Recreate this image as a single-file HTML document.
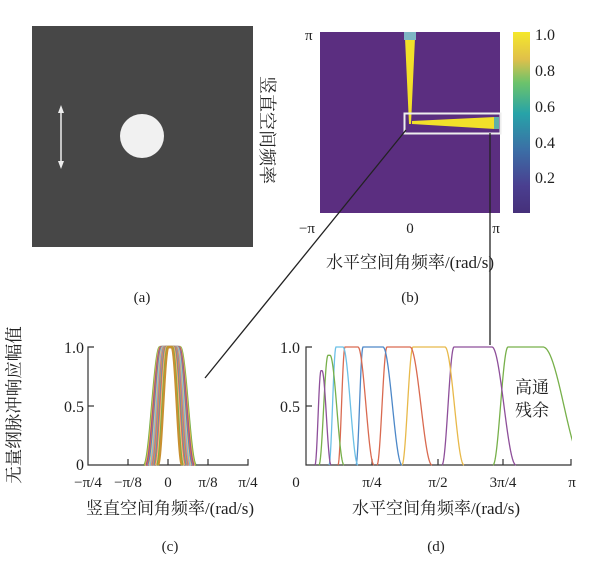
<!DOCTYPE html>
<html><head><meta charset="utf-8"><style>
html,body{margin:0;padding:0;background:#fff;width:600px;height:573px;overflow:hidden}
svg text{font-family:"Liberation Serif","Noto Serif CJK SC",serif;fill:#222}
.c{font-family:"Liberation Serif","Noto Serif CJK SC","Noto Sans CJK SC",serif}
</style></head><body>
<svg id="s" width="600" height="573" viewBox="0 0 600 573" xmlns="http://www.w3.org/2000/svg">
<defs>
<linearGradient id="cb" x1="0" y1="1" x2="0" y2="0">
<stop offset="0" stop-color="#46307a"/><stop offset="0.15" stop-color="#4a3f90"/>
<stop offset="0.35" stop-color="#3b6fa6"/><stop offset="0.55" stop-color="#27a3a8"/>
<stop offset="0.72" stop-color="#6cc36b"/><stop offset="0.85" stop-color="#e0c04a"/>
<stop offset="1" stop-color="#f5e82a"/></linearGradient>
<clipPath id="cp"><rect x="300" y="330" width="272" height="140"/></clipPath>
</defs>
<rect x="32" y="26" width="221" height="221" fill="#474747"/>
<circle cx="142" cy="136" r="22" fill="#f1f1f1"/>
<line x1="61" y1="110" x2="61" y2="164" stroke="#eee" stroke-width="1.5"/>
<polygon points="61,105 58,113 64,113" fill="#eee"/><polygon points="61,169 58,161 64,161" fill="#eee"/>
<text x="142" y="302" font-size="15" text-anchor="middle">(a)</text>
<text class="c" font-size="18" transform="translate(261,130) rotate(90)" text-anchor="middle">竖直空间频率</text>
<rect x="320" y="32" width="180" height="181" fill="#5b2e80"/>
<polygon points="405,38 415,38 411,124 409,124" fill="#f2e02a"/>
<rect x="404" y="32" width="12" height="8" fill="#7fb6c4"/>
<polygon points="412,121 495,117 495,129 412,124" fill="#f2e02a"/>
<rect x="494" y="117" width="5" height="12" fill="#5fb0a8"/>
<rect x="404.5" y="113.5" width="96" height="20" fill="none" stroke="#eee" stroke-width="2"/>
<rect x="513" y="32" width="17" height="181" fill="url(#cb)"/>
<text x="535" y="40" font-size="16">1.0</text><text x="535" y="76" font-size="16">0.8</text>
<text x="535" y="112" font-size="16">0.6</text><text x="535" y="148" font-size="16">0.4</text>
<text x="535" y="183" font-size="16">0.2</text>
<text x="305" y="40" font-size="15">π</text>
<text x="307" y="233" font-size="15" text-anchor="middle">−π</text>
<text x="410" y="233" font-size="15" text-anchor="middle">0</text>
<text x="496" y="233" font-size="15" text-anchor="middle">π</text>
<text class="c" x="410" y="268" font-size="17" text-anchor="middle">水平空间角频率/(rad/s)</text>
<text x="410" y="302" font-size="15" text-anchor="middle">(b)</text>
<line x1="406" y1="130" x2="205" y2="378" stroke="#222" stroke-width="1.3"/>
<line x1="490" y1="133" x2="490" y2="345" stroke="#222" stroke-width="1.3"/>
<text class="c" font-size="17.5" transform="translate(20,405) rotate(-90)" text-anchor="middle">无量纲脉冲响应幅值</text>
<g stroke="#333" stroke-width="1.2" fill="none">
<path d="M94,347 H88 V465 H248 V459"/><path d="M88,406 H94"/>
<path d="M128,465 V459 M168,465 V459 M208,465 V459"/>
<path d="M312,347 H306 V465 H571 V459"/><path d="M306,406 H312"/>
<path d="M372,465 V459 M438,465 V459 M503,465 V459"/>
</g>
<g id="cc"></g><g id="dd" clip-path="url(#cp)"></g>
<text x="84" y="353" font-size="16" text-anchor="end">1.0</text>
<text x="84" y="412" font-size="16" text-anchor="end">0.5</text>
<text x="84" y="470" font-size="16" text-anchor="end">0</text>
<text x="88" y="487" font-size="15" text-anchor="middle">−π/4</text>
<text x="128" y="487" font-size="15" text-anchor="middle">−π/8</text>
<text x="168" y="487" font-size="15" text-anchor="middle">0</text>
<text x="208" y="487" font-size="15" text-anchor="middle">π/8</text>
<text x="248" y="487" font-size="15" text-anchor="middle">π/4</text>
<text class="c" x="170" y="514" font-size="17" text-anchor="middle">竖直空间角频率/(rad/s)</text>
<text x="170" y="551" font-size="15" text-anchor="middle">(c)</text>
<text x="300" y="353" font-size="16" text-anchor="end">1.0</text>
<text x="300" y="412" font-size="16" text-anchor="end">0.5</text>
<text x="296" y="487" font-size="15" text-anchor="middle">0</text>
<text x="372" y="487" font-size="15" text-anchor="middle">π/4</text>
<text x="438" y="487" font-size="15" text-anchor="middle">π/2</text>
<text x="503" y="487" font-size="15" text-anchor="middle">3π/4</text>
<text x="572" y="487" font-size="15" text-anchor="middle">π</text>
<text class="c" x="515" y="393" font-size="17">高通</text>
<text class="c" x="515" y="416" font-size="17">残余</text>
<text class="c" x="436" y="514" font-size="17" text-anchor="middle">水平空间角频率/(rad/s)</text>
<text x="436" y="551" font-size="15" text-anchor="middle">(d)</text>
</svg>
<script>
function bump(a,b,c,d,p,y0,h){var s="";for(var x=a;x<=d;x+=0.5){var v;if(x<b)v=0.5-0.5*Math.cos(Math.PI*(x-a)/(b-a));else if(x<=c)v=1;else v=0.5+0.5*Math.cos(Math.PI*(x-c)/(d-c));s+=(s?"L":"M")+x.toFixed(1)+","+(y0-v*p*h).toFixed(1);}return s;}
var cols=["#77b04a","#8e4f9a","#e8b94a","#d96a50","#4d88c8","#d96a50","#6cc0e6","#77b04a","#8e4f9a"];
var bands=[[493,508,543,585,1],[442,454,492,516,1],[402,413,445,464,1],[377,387,410,432,1],[356,363,383,402,1],[338,345,358,374,1],[329,336,343,358,1],[319,328,330,344,.93],[315,321,322,331,.8]];
var g="";bands.forEach(function(b,i){g+='<path d="'+bump(b[0],b[1],b[2],b[3],b[4],465,118)+'" fill="none" stroke="'+cols[i]+'" stroke-width="1.3"/>';});
document.getElementById("dd").innerHTML=g;
var cc=["#77b04a","#e8b94a","#8e4f9a","#d96a50","#4d88c8","#f0c080","#6cc0e6","#e8a060","#a070b0","#d9a040","#5a90c0","#e07050","#f3c68a","#77b04a","#c89030"];
var h="";for(var i=0;i<15;i++){var w=10-i*0.6,t=16-i*0.4;var a=170-w-t,d=170+w+t;h+='<path d="'+bump(a,170-w,170+w,d,1,465,118)+'" fill="none" stroke="'+cc[i]+'" stroke-width="2.2"/>';}
document.getElementById("cc").innerHTML=h;
</script>
</body></html>
